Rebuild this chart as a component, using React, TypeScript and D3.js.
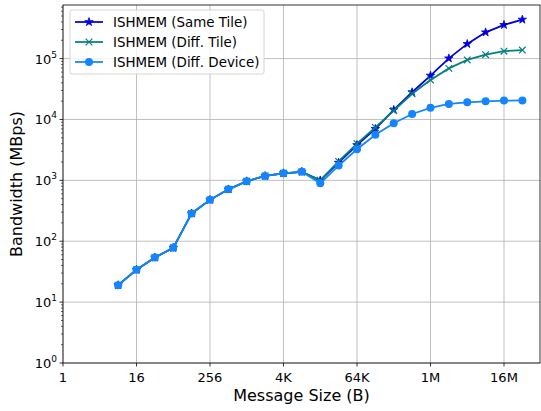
import * as d3 from "d3";

const W = 541, H = 411;
const M = { left: 63, right: 1, top: 5, bottom: 48 };

const sizesLog2 = [3, 4, 5, 6, 7, 8, 9, 10, 11, 12, 13, 14, 15, 16, 17, 18, 19, 20, 21, 22, 23, 24, 25];
const sameTile = [19, 34, 54, 78, 286, 478, 712, 967, 1180, 1306, 1383, 1000, 1950, 3800, 7000, 14400, 28000, 52500, 101000, 174000, 270000, 357000, 437000];
const diffTile = [19, 34, 54, 78, 286, 478, 712, 967, 1180, 1306, 1383, 1000, 2050, 4000, 7400, 14000, 26400, 44600, 69000, 95000, 116000, 132000, 138000];
const diffDevice = [19, 34, 54, 78, 286, 478, 712, 967, 1180, 1306, 1383, 894, 1750, 3240, 5600, 8700, 12300, 15500, 18000, 19100, 19900, 20400, 20500];

const xTickLog2 = [0, 4, 8, 12, 16, 20, 24];
const xTickLabels = ["1", "16", "256", "4K", "64K", "1M", "16M"];
const yTickExp = [0, 1, 2, 3, 4, 5];

const series = [
  { name: "ISHMEM (Same Tile)", values: sameTile, color: "#0000d8", marker: "star" },
  { name: "ISHMEM (Diff. Tile)", values: diffTile, color: "#008080", marker: "x" },
  { name: "ISHMEM (Diff. Device)", values: diffDevice, color: "#1585ff", marker: "circle" },
];

const FONT = "DejaVu Sans, sans-serif";

const starPath = d3.symbol(d3.symbolStar, 22)() as string;

function Marker({ kind, x, y, color }: { kind: string; x: number; y: number; color: string }) {
  if (kind === "circle") return <circle cx={x} cy={y} r={4} fill={color} />;
  if (kind === "x") {
    const s = 3.3;
    return (
      <g stroke={color} strokeWidth={1.2}>
        <line x1={x - s} y1={y - s} x2={x + s} y2={y + s} />
        <line x1={x - s} y1={y + s} x2={x + s} y2={y - s} />
      </g>
    );
  }
  return <path d={starPath} transform={`translate(${x},${y})`} fill={color} stroke={color} strokeWidth={0.8} />;
}

export default function App() {
  const x = d3.scaleLinear([0, 25.96], [M.left, W - M.right]);
  const y = d3.scaleLog([1, Math.pow(10, 5.88)], [H - M.bottom, M.top]);
  const line = d3.line<number>().x((_, i) => x(sizesLog2[i])).y((v) => y(v));

  const minor: number[] = [];
  for (let e = 0; e <= 5; e++) for (let k = 2; k <= 9; k++) {
    const v = k * Math.pow(10, e);
    if (v < Math.pow(10, 5.88)) minor.push(v);
  }

  const x0 = M.left, x1 = W - M.right, y0 = H - M.bottom, y1 = M.top;

  return (
    <svg width={W} height={H} style={{ position: "absolute", left: 0, top: 0 }} fontFamily={FONT}>
      <rect width={W} height={H} fill="#fff" />
      {/* grid */}
      {xTickLog2.map((t) => (
        <line key={"gx" + t} x1={x(t)} x2={x(t)} y1={y0} y2={y1} stroke="#b0b0b0" strokeWidth={0.8} />
      ))}
      {yTickExp.map((e) => (
        <line key={"gy" + e} x1={x0} x2={x1} y1={y(Math.pow(10, e))} y2={y(Math.pow(10, e))} stroke="#b0b0b0" strokeWidth={0.8} />
      ))}

      {/* series */}
      {series.map((s) => (
        <g key={s.name}>
          <path d={line(s.values) as string} fill="none" stroke={s.color} strokeWidth={1.75} />
          {s.values.map((v, i) => (
            <Marker key={i} kind={s.marker} x={x(sizesLog2[i])} y={y(v)} color={s.color} />
          ))}
        </g>
      ))}

      {/* frame */}
      <rect x={x0} y={y1} width={x1 - x0} height={y0 - y1} fill="none" stroke="#000" strokeWidth={0.8} />

      {/* x axis */}
      {xTickLog2.map((t, i) => (
        <g key={"xt" + t}>
          <line x1={x(t)} x2={x(t)} y1={y0} y2={y0 + 3.5} stroke="#000" strokeWidth={0.8} />
          <text x={x(t)} y={y0 + 19} textAnchor="middle" fontSize={13}>{xTickLabels[i]}</text>
        </g>
      ))}
      <text x={(x0 + x1) / 2} y={401} textAnchor="middle" fontSize={16}>Message Size (B)</text>

      {/* y axis */}
      {minor.map((v) => (
        <line key={"ym" + v} x1={x0 - 2} x2={x0} y1={y(v)} y2={y(v)} stroke="#000" strokeWidth={0.6} />
      ))}
      {yTickExp.map((e) => (
        <g key={"yt" + e}>
          <line x1={x0 - 3.5} x2={x0} y1={y(Math.pow(10, e))} y2={y(Math.pow(10, e))} stroke="#000" strokeWidth={0.8} />
          <text x={x0 - 6} y={y(Math.pow(10, e)) + 5} textAnchor="end" fontSize={13}>
            10<tspan dy={-6} fontSize={9}>{e}</tspan>
          </text>
        </g>
      ))}
      <text transform={`translate(22,${(y0 + y1) / 2}) rotate(-90)`} textAnchor="middle" fontSize={16}>Bandwidth (MBps)</text>

      {/* legend */}
      <rect x={70} y={10} width={194} height={64} rx={2} fill="#fff" fillOpacity={0.8} stroke="#ccc" strokeWidth={0.8} />
      {series.map((s, i) => {
        const ly = 22 + i * 20;
        return (
          <g key={"lg" + s.name}>
            <line x1={75} x2={103} y1={ly} y2={ly} stroke={s.color} strokeWidth={1.75} />
            <Marker kind={s.marker} x={89} y={ly} color={s.color} />
            <text x={113} y={ly + 5} fontSize={13.4}>{s.name}</text>
          </g>
        );
      })}
    </svg>
  );
}
